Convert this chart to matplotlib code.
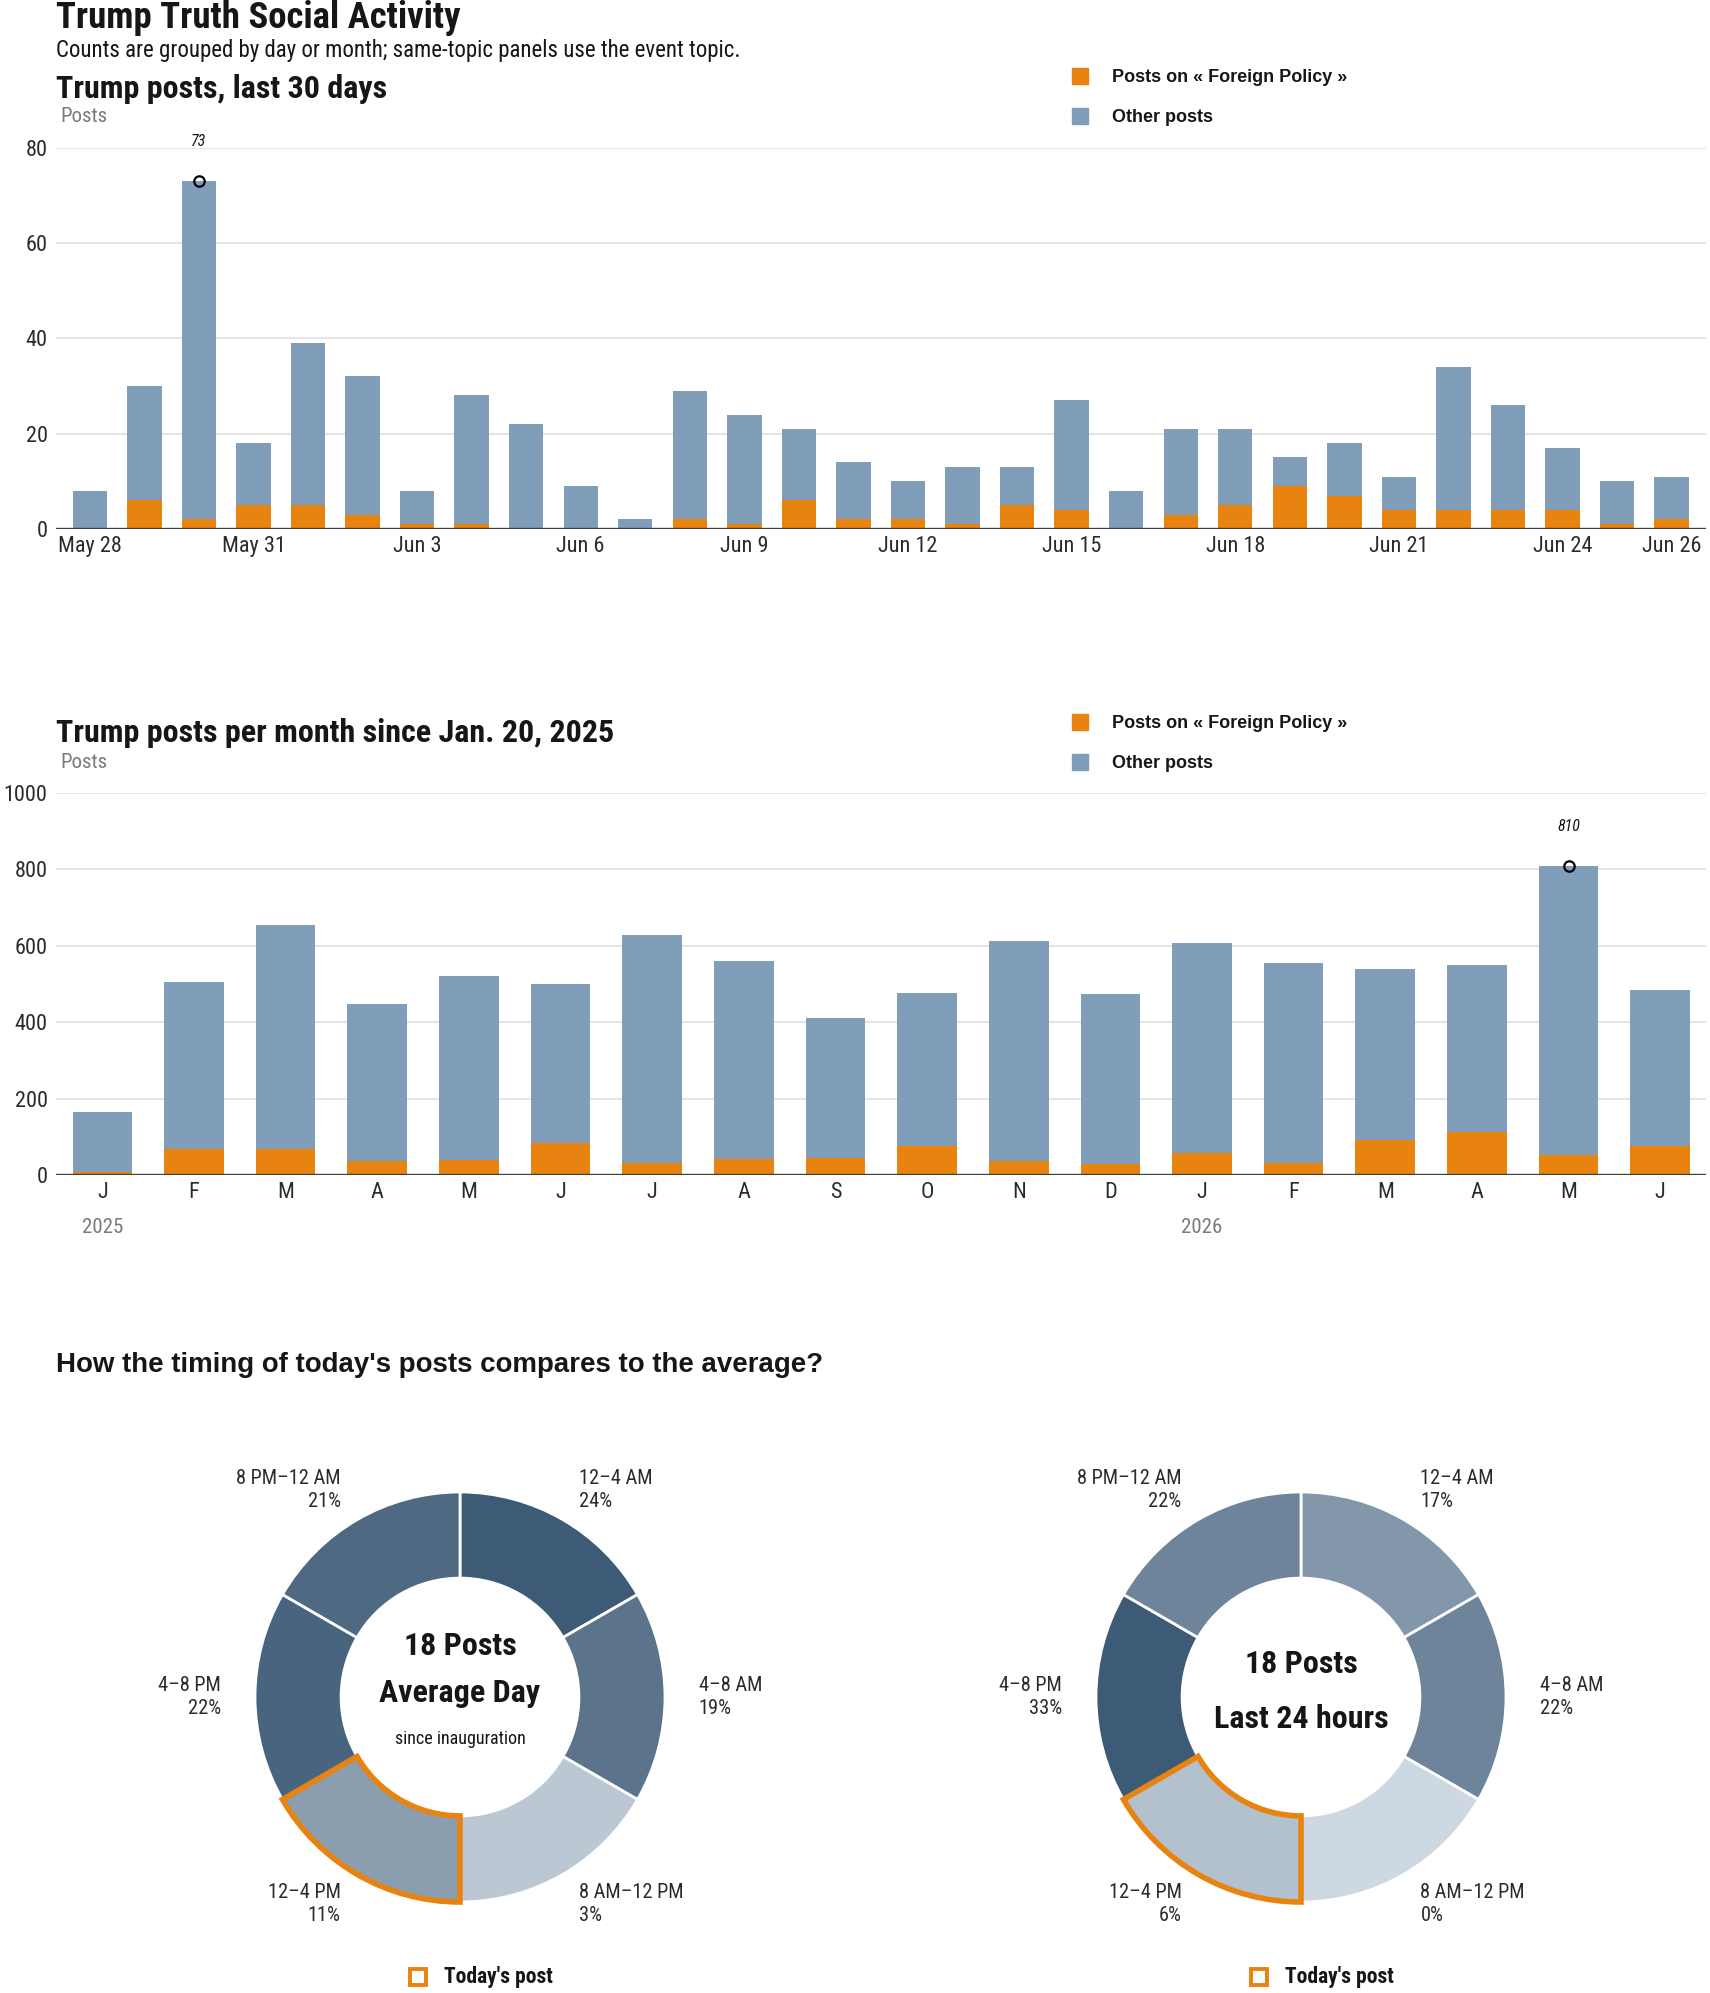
import numpy as np
import matplotlib
matplotlib.use('Agg')
import matplotlib.pyplot as plt
from matplotlib import font_manager, transforms
from matplotlib.colors import LinearSegmentedColormap
from matplotlib.patches import Rectangle, Wedge

W, H = 1710, 1993

# ---- data ----
day_labels = ['May 28', 'May 29', 'May 30', 'May 31', 'Jun 1', 'Jun 2', 'Jun 3', 'Jun 4',
              'Jun 5', 'Jun 6', 'Jun 7', 'Jun 8', 'Jun 9', 'Jun 10', 'Jun 11', 'Jun 12',
              'Jun 13', 'Jun 14', 'Jun 15', 'Jun 16', 'Jun 17', 'Jun 18', 'Jun 19', 'Jun 20',
              'Jun 21', 'Jun 22', 'Jun 23', 'Jun 24', 'Jun 25', 'Jun 26']
day_total = [8, 30, 73, 18, 39, 32, 8, 28, 22, 9, 2, 29, 24, 21, 14,
             10, 13, 13, 27, 8, 21, 21, 15, 18, 11, 34, 26, 17, 10, 11]
day_foreign = [0, 6, 2, 5, 5, 3, 1, 1, 0, 0, 0, 2, 1, 6, 2,
               2, 1, 5, 4, 0, 3, 5, 9, 7, 4, 4, 4, 4, 1, 2]
day_ticks = [0, 3, 6, 9, 12, 15, 18, 21, 24, 27, 29]

month_labels = ['J', 'F', 'M', 'A', 'M', 'J', 'J', 'A', 'S', 'O', 'N', 'D',
                'J', 'F', 'M', 'A', 'M', 'J']
month_total = [165, 504, 654, 447, 520, 499, 628, 559, 412, 477, 612, 473,
               607, 556, 538, 549, 810, 483]
month_foreign = [7, 69, 69, 37, 39, 84, 32, 43, 45, 77, 37, 30,
                 58, 32, 92, 113, 52, 77]
year_marks = [(0, '2025'), (12, '2026')]

slots = ['12–4 AM', '4–8 AM', '8 AM–12 PM', '12–4 PM', '4–8 PM', '8 PM–12 AM']
avg_pct = [24, 19, 3, 11, 22, 21]
today_pct = [17, 22, 0, 6, 33, 22]
today_slot = 3

# ---- style ----
installed = {f.name for f in font_manager.fontManager.ttflist}


def pick(*names):
    for n in names:
        if n in installed:
            return n
    return 'DejaVu Sans'


NARROW = pick('Roboto Condensed', 'Liberation Sans Narrow', 'Liberation Sans')
WIDE = pick('Liberation Sans', 'Roboto')

ORANGE = '#e8830f'
BLUE = '#809db9'
INK = '#161616'
TICK = '#2b2b2b'
GREY = '#7a7a7a'
GRID = '#dcdcdc'
ring_cmap = LinearSegmentedColormap.from_list('ring', ['#cdd8e2', '#3d5a76'])

fig = plt.figure(figsize=(W / 100, H / 100), dpi=100)


def ftext(x, y, s, **kw):
    kw.setdefault('color', INK)
    return fig.text(x / W, 1 - y / H, s, **kw)


def rect(left, top, right, bottom):
    return [left / W, 1 - bottom / H, (right - left) / W, (bottom - top) / H]


def legend(y1, y2):
    for y, c, s in [(y1, ORANGE, 'Posts on « Foreign Policy »'), (y2, BLUE, 'Other posts')]:
        fig.patches.append(Rectangle(((1072) / W, 1 - (y + 8) / H), 16 / W, 16 / H,
                                     transform=fig.transFigure, color=c))
        ftext(1112, y + 2, s, family=WIDE, weight='bold', size=13, va='center')


def bar_panel(box, labels, total, foreign, ymax, yticks, ticks, width, pad_l, pad_r):
    ax = fig.add_axes(rect(*box))
    x = np.arange(len(total))
    total = np.array(total)
    foreign = np.array(foreign)
    ax.bar(x, foreign, width, color=ORANGE, zorder=2)
    ax.bar(x, total - foreign, width, bottom=foreign, color=BLUE, zorder=2)
    ax.set_ylim(0, ymax)
    ax.set_xlim(x[0] - pad_l, x[-1] + pad_r)
    ax.set_yticks(yticks)
    ax.set_yticklabels([str(v) for v in yticks], family=NARROW, size=16, color=TICK)
    ax.set_xticks(ticks)
    ax.set_xticklabels([labels[i] for i in ticks], family=NARROW, size=16, color=TICK)
    ax.tick_params(length=0, pad=6)
    ax.tick_params(axis='x', pad=5)
    for v in yticks[1:]:
        ax.axhline(v, color=GRID, lw=1.1, zorder=1)
    ax.axhline(0, color='#3f3f3f', lw=2.4, zorder=3)
    for s in ax.spines.values():
        s.set_visible(False)
    ax.patch.set_alpha(0)
    i = int(np.argmax(total))
    ax.plot(i, total[i], 'o', mfc='none', mec='black', ms=7.5, mew=1.6,
            clip_on=False, zorder=5)
    ax.annotate(str(total[i]), (i, total[i]), xytext=(0, 25),
                textcoords='offset points', ha='center', va='baseline',
                family=NARROW, style='italic', size=11.5, color=INK)
    return ax


# ---- header ----
ftext(56, 28, 'Trump Truth Social Activity', family=NARROW, weight='bold', size=26.5)
ftext(56, 57, 'Counts are grouped by day or month; same-topic panels use the event topic.',
      family=NARROW, size=16.5)

# ---- daily panel ----
ftext(56, 98, 'Trump posts, last 30 days', family=NARROW, weight='bold', size=23)
ftext(60, 122, 'Posts', family=NARROW, size=15, color=GREY)
legend(76, 116)
bar_panel((56, 147.5, 1706, 529), day_labels, day_total, day_foreign, 80,
          [0, 20, 40, 60, 80], day_ticks, 0.63, 0.62, 0.63)

# ---- monthly panel ----
ftext(56, 742, 'Trump posts per month since Jan. 20, 2025', family=NARROW, weight='bold', size=23)
ftext(60, 768, 'Posts', family=NARROW, size=15, color=GREY)
legend(722, 762)
ax2 = bar_panel((56, 793, 1706, 1175), month_labels, month_total, month_foreign, 1000,
                [0, 200, 400, 600, 800, 1000], list(range(len(month_labels))), 0.65, 0.506, 0.5)
yr = transforms.blended_transform_factory(ax2.transData, fig.transFigure)
for i, s in year_marks:
    ax2.text(i, 1 - 1233 / H, s, transform=yr, ha='center', va='baseline',
             family=NARROW, size=15, color=GREY)

# ---- donuts ----
ftext(56, 1372, "How the timing of today's posts compares to the average?",
      family=WIDE, weight='bold', size=19.9)

R = 205.0
CY = 1697


def donut(cx, pct, lines):
    ax = fig.add_axes(rect(cx - 415, CY - 310, cx + 415, CY + 310))
    ax.axis('off')
    top = max(pct)
    colors = [ring_cmap(p / top) for p in pct]
    wedges, _ = ax.pie([1] * len(pct), colors=colors, startangle=90, counterclock=False,
                       radius=1, wedgeprops=dict(width=0.42, edgecolor='white', linewidth=2))
    hl = wedges[today_slot]
    ax.add_patch(Wedge((0, 0), 1, hl.theta1, hl.theta2, width=0.42, fill=False,
                       edgecolor=ORANGE, lw=4, zorder=5, joinstyle='miter'))
    for k, (name, p) in enumerate(zip(slots, pct)):
        a = np.deg2rad(60 - 60 * k)
        c = np.cos(a)
        ax.text(1.165 * c, 1.165 * np.sin(a), f'{name}\n{p}%',
                ha='left' if c > 0 else 'right', va='center', linespacing=1.3,
                family=NARROW, size=14.7, color=TICK)
    for dy, s, kw in lines:
        ax.text(0, dy, s, ha='center', va='center', family=NARROW, color=INK, **kw)
    ax.set_xlim(-415 / R, 415 / R)
    ax.set_ylim(-310 / R, 310 / R)
    # today's post key
    fig.patches.append(Rectangle(((cx - 50) / W, 1 - 1985 / H), 16 / W, 16 / H,
                                 transform=fig.transFigure, fill=False,
                                 edgecolor=ORANGE, lw=2.8))
    ftext(cx - 16, 1977, "Today's post", family=NARROW, weight='bold', size=15.5, va='center')


donut(460, avg_pct, [(0.25, '18 Posts', dict(weight='bold', size=23)),
                     (0.02, 'Average Day', dict(weight='bold', size=23)),
                     (-0.205, 'since inauguration', dict(size=13))])
donut(1301, today_pct, [(0.16, '18 Posts', dict(weight='bold', size=23)),
                        (-0.107, 'Last 24 hours', dict(weight='bold', size=23))])

fig.savefig('out.png', dpi=100)
